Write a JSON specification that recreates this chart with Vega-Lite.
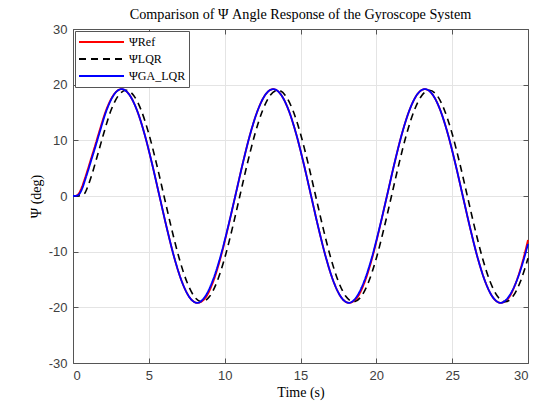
{
  "$schema": "https://vega.github.io/schema/vega-lite/v6.json",
  "width": 455,
  "height": 334,
  "autosize": "none",
  "padding": {"left": 73, "top": 29, "right": 17, "bottom": 44},
  "background": "white",
  "title": {"text": "Comparison of Ψ Angle Response of the Gyroscope System", "font": "Liberation Serif", "fontSize": 14.2, "fontWeight": "normal", "color": "#000000", "offset": 1},
  "config": {
    "view": {"stroke": null},
    "axis": {
      "domainColor": "#555555", "tickColor": "#555555", "tickSize": -5, "domainWidth": 1,
      "labelFont": "Liberation Sans", "labelFontSize": 13, "labelColor": "#404040",
      "labelExpr": "datum.value + ''",
      "titleFont": "Liberation Serif", "titleFontSize": 14, "titleFontWeight": "normal", "titleColor": "#000000",
      "gridColor": "#e4e4e4", "gridWidth": 1
    }
  },
  "data": {"values": [
    {"t": 0, "v": 0, "s": "ΨRef"}, {"t": 0.2, "v": 0.05, "s": "ΨRef"}, {"t": 0.4, "v": 0.5, "s": "ΨRef"}, {"t": 0.6, "v": 1.7, "s": "ΨRef"}, {"t": 0.8, "v": 3.3, "s": "ΨRef"}, {"t": 1.0, "v": 5.0, "s": "ΨRef"}, {"t": 1.2, "v": 6.8, "s": "ΨRef"}, {"t": 1.45, "v": 9.0, "s": "ΨRef"},
    {"t": 1.7, "v": 11.29, "s": "ΨRef"}, {"t": 2.2, "v": 15.53, "s": "ΨRef"}, {"t": 2.7, "v": 18.26, "s": "ΨRef"}, {"t": 3.2, "v": 19.2, "s": "ΨRef"}, {"t": 3.7, "v": 18.26, "s": "ΨRef"}, {"t": 4.2, "v": 15.53, "s": "ΨRef"}, {"t": 4.7, "v": 11.29, "s": "ΨRef"}, {"t": 5.2, "v": 5.93, "s": "ΨRef"}, {"t": 5.7, "v": 0, "s": "ΨRef"}, {"t": 6.2, "v": -5.93, "s": "ΨRef"}, {"t": 6.7, "v": -11.29, "s": "ΨRef"}, {"t": 7.2, "v": -15.53, "s": "ΨRef"}, {"t": 7.7, "v": -18.26, "s": "ΨRef"}, {"t": 8.2, "v": -19.2, "s": "ΨRef"}, {"t": 8.7, "v": -18.4, "s": "ΨRef"}, {"t": 9.2, "v": -15.7, "s": "ΨRef"}, {"t": 9.7, "v": -11.4, "s": "ΨRef"}, {"t": 10.2, "v": -5.93, "s": "ΨRef"}, {"t": 10.7, "v": 0, "s": "ΨRef"},
    {"t": 11.2, "v": 5.93, "s": "ΨRef"}, {"t": 11.7, "v": 11.29, "s": "ΨRef"}, {"t": 12.2, "v": 15.53, "s": "ΨRef"}, {"t": 12.7, "v": 18.26, "s": "ΨRef"}, {"t": 13.2, "v": 19.2, "s": "ΨRef"}, {"t": 13.7, "v": 18.26, "s": "ΨRef"}, {"t": 14.2, "v": 15.53, "s": "ΨRef"}, {"t": 14.7, "v": 11.29, "s": "ΨRef"}, {"t": 15.2, "v": 5.93, "s": "ΨRef"}, {"t": 15.7, "v": 0, "s": "ΨRef"}, {"t": 16.2, "v": -5.93, "s": "ΨRef"}, {"t": 16.7, "v": -11.29, "s": "ΨRef"}, {"t": 17.2, "v": -15.53, "s": "ΨRef"}, {"t": 17.7, "v": -18.26, "s": "ΨRef"}, {"t": 18.2, "v": -19.2, "s": "ΨRef"}, {"t": 18.7, "v": -18.4, "s": "ΨRef"}, {"t": 19.2, "v": -15.7, "s": "ΨRef"}, {"t": 19.7, "v": -11.4, "s": "ΨRef"}, {"t": 20.2, "v": -5.93, "s": "ΨRef"}, {"t": 20.7, "v": 0, "s": "ΨRef"},
    {"t": 21.2, "v": 5.93, "s": "ΨRef"}, {"t": 21.7, "v": 11.29, "s": "ΨRef"}, {"t": 22.2, "v": 15.53, "s": "ΨRef"}, {"t": 22.7, "v": 18.26, "s": "ΨRef"}, {"t": 23.2, "v": 19.2, "s": "ΨRef"}, {"t": 23.7, "v": 18.26, "s": "ΨRef"}, {"t": 24.2, "v": 15.53, "s": "ΨRef"}, {"t": 24.7, "v": 11.29, "s": "ΨRef"}, {"t": 25.2, "v": 5.93, "s": "ΨRef"}, {"t": 25.7, "v": 0, "s": "ΨRef"}, {"t": 26.2, "v": -5.93, "s": "ΨRef"}, {"t": 26.7, "v": -11.29, "s": "ΨRef"}, {"t": 27.2, "v": -15.53, "s": "ΨRef"}, {"t": 27.7, "v": -18.26, "s": "ΨRef"}, {"t": 28.2, "v": -19.2, "s": "ΨRef"}, {"t": 28.7, "v": -18.4, "s": "ΨRef"}, {"t": 29.2, "v": -15.6, "s": "ΨRef"}, {"t": 29.7, "v": -11.2, "s": "ΨRef"}, {"t": 30, "v": -7.9, "s": "ΨRef"},

    {"t": 0, "v": 0, "s": "ΨLQR"}, {"t": 0.25, "v": 0, "s": "ΨLQR"}, {"t": 0.5, "v": 0.05, "s": "ΨLQR"}, {"t": 0.75, "v": 0.4, "s": "ΨLQR"}, {"t": 1.0, "v": 1.9, "s": "ΨLQR"}, {"t": 1.25, "v": 3.9, "s": "ΨLQR"}, {"t": 1.5, "v": 6.2, "s": "ΨLQR"}, {"t": 2.0, "v": 11.0, "s": "ΨLQR"},
    {"t": 2.5, "v": 15.37, "s": "ΨLQR"}, {"t": 3.0, "v": 18.07, "s": "ΨLQR"}, {"t": 3.5, "v": 19, "s": "ΨLQR"}, {"t": 4.0, "v": 18.07, "s": "ΨLQR"}, {"t": 4.5, "v": 15.37, "s": "ΨLQR"}, {"t": 5.0, "v": 11.17, "s": "ΨLQR"}, {"t": 5.5, "v": 5.87, "s": "ΨLQR"}, {"t": 6.0, "v": 0, "s": "ΨLQR"}, {"t": 6.5, "v": -5.87, "s": "ΨLQR"}, {"t": 7.0, "v": -11.17, "s": "ΨLQR"}, {"t": 7.5, "v": -15.37, "s": "ΨLQR"}, {"t": 8.0, "v": -18.07, "s": "ΨLQR"}, {"t": 8.5, "v": -19, "s": "ΨLQR"}, {"t": 9.0, "v": -18.07, "s": "ΨLQR"}, {"t": 9.5, "v": -15.37, "s": "ΨLQR"}, {"t": 10.0, "v": -11.17, "s": "ΨLQR"}, {"t": 10.5, "v": -5.87, "s": "ΨLQR"},
    {"t": 11.0, "v": 0, "s": "ΨLQR"}, {"t": 11.5, "v": 5.87, "s": "ΨLQR"}, {"t": 12.0, "v": 11.17, "s": "ΨLQR"}, {"t": 12.5, "v": 15.37, "s": "ΨLQR"}, {"t": 13.0, "v": 18.07, "s": "ΨLQR"}, {"t": 13.5, "v": 19, "s": "ΨLQR"}, {"t": 14.0, "v": 18.07, "s": "ΨLQR"}, {"t": 14.5, "v": 15.37, "s": "ΨLQR"}, {"t": 15.0, "v": 11.17, "s": "ΨLQR"}, {"t": 15.5, "v": 5.87, "s": "ΨLQR"}, {"t": 16.0, "v": 0, "s": "ΨLQR"}, {"t": 16.5, "v": -5.87, "s": "ΨLQR"}, {"t": 17.0, "v": -11.17, "s": "ΨLQR"}, {"t": 17.5, "v": -15.37, "s": "ΨLQR"}, {"t": 18.0, "v": -18.07, "s": "ΨLQR"}, {"t": 18.5, "v": -19, "s": "ΨLQR"}, {"t": 19.0, "v": -18.07, "s": "ΨLQR"}, {"t": 19.5, "v": -15.37, "s": "ΨLQR"}, {"t": 20.0, "v": -11.17, "s": "ΨLQR"}, {"t": 20.5, "v": -5.87, "s": "ΨLQR"},
    {"t": 21.0, "v": 0, "s": "ΨLQR"}, {"t": 21.5, "v": 5.87, "s": "ΨLQR"}, {"t": 22.0, "v": 11.17, "s": "ΨLQR"}, {"t": 22.5, "v": 15.37, "s": "ΨLQR"}, {"t": 23.0, "v": 18.07, "s": "ΨLQR"}, {"t": 23.5, "v": 19, "s": "ΨLQR"}, {"t": 24.0, "v": 18.07, "s": "ΨLQR"}, {"t": 24.5, "v": 15.37, "s": "ΨLQR"}, {"t": 25.0, "v": 11.17, "s": "ΨLQR"}, {"t": 25.5, "v": 5.87, "s": "ΨLQR"}, {"t": 26.0, "v": 0, "s": "ΨLQR"}, {"t": 26.5, "v": -5.87, "s": "ΨLQR"}, {"t": 27.0, "v": -11.17, "s": "ΨLQR"}, {"t": 27.5, "v": -15.37, "s": "ΨLQR"}, {"t": 28.0, "v": -18.07, "s": "ΨLQR"}, {"t": 28.5, "v": -19, "s": "ΨLQR"}, {"t": 29.0, "v": -18.07, "s": "ΨLQR"}, {"t": 29.5, "v": -15.37, "s": "ΨLQR"}, {"t": 30.0, "v": -11.17, "s": "ΨLQR"},

    {"t": 0, "v": 0, "s": "ΨGA_LQR"}, {"t": 0.2, "v": 0.03, "s": "ΨGA_LQR"}, {"t": 0.4, "v": 0.3, "s": "ΨGA_LQR"}, {"t": 0.6, "v": 1.3, "s": "ΨGA_LQR"}, {"t": 0.8, "v": 2.9, "s": "ΨGA_LQR"}, {"t": 1.0, "v": 4.6, "s": "ΨGA_LQR"}, {"t": 1.2, "v": 6.4, "s": "ΨGA_LQR"}, {"t": 1.45, "v": 8.6, "s": "ΨGA_LQR"},
    {"t": 1.7, "v": 10.9, "s": "ΨGA_LQR"}, {"t": 2.2, "v": 15.3, "s": "ΨGA_LQR"}, {"t": 2.7, "v": 18.2, "s": "ΨGA_LQR"}, {"t": 3.2, "v": 19.2, "s": "ΨGA_LQR"}, {"t": 3.7, "v": 18.26, "s": "ΨGA_LQR"}, {"t": 4.2, "v": 15.53, "s": "ΨGA_LQR"}, {"t": 4.7, "v": 11.29, "s": "ΨGA_LQR"}, {"t": 5.2, "v": 5.93, "s": "ΨGA_LQR"}, {"t": 5.7, "v": 0, "s": "ΨGA_LQR"}, {"t": 6.2, "v": -5.93, "s": "ΨGA_LQR"}, {"t": 6.7, "v": -11.29, "s": "ΨGA_LQR"}, {"t": 7.2, "v": -15.53, "s": "ΨGA_LQR"}, {"t": 7.7, "v": -18.26, "s": "ΨGA_LQR"}, {"t": 8.2, "v": -19.2, "s": "ΨGA_LQR"}, {"t": 8.7, "v": -18.1, "s": "ΨGA_LQR"}, {"t": 9.2, "v": -15.3, "s": "ΨGA_LQR"}, {"t": 9.7, "v": -11.1, "s": "ΨGA_LQR"}, {"t": 10.2, "v": -5.8, "s": "ΨGA_LQR"}, {"t": 10.7, "v": 0, "s": "ΨGA_LQR"},
    {"t": 11.2, "v": 5.93, "s": "ΨGA_LQR"}, {"t": 11.7, "v": 11.29, "s": "ΨGA_LQR"}, {"t": 12.2, "v": 15.53, "s": "ΨGA_LQR"}, {"t": 12.7, "v": 18.26, "s": "ΨGA_LQR"}, {"t": 13.2, "v": 19.2, "s": "ΨGA_LQR"}, {"t": 13.7, "v": 18.26, "s": "ΨGA_LQR"}, {"t": 14.2, "v": 15.53, "s": "ΨGA_LQR"}, {"t": 14.7, "v": 11.29, "s": "ΨGA_LQR"}, {"t": 15.2, "v": 5.93, "s": "ΨGA_LQR"}, {"t": 15.7, "v": 0, "s": "ΨGA_LQR"}, {"t": 16.2, "v": -5.93, "s": "ΨGA_LQR"}, {"t": 16.7, "v": -11.29, "s": "ΨGA_LQR"}, {"t": 17.2, "v": -15.53, "s": "ΨGA_LQR"}, {"t": 17.7, "v": -18.26, "s": "ΨGA_LQR"}, {"t": 18.2, "v": -19.2, "s": "ΨGA_LQR"}, {"t": 18.7, "v": -18.1, "s": "ΨGA_LQR"}, {"t": 19.2, "v": -15.3, "s": "ΨGA_LQR"}, {"t": 19.7, "v": -11.1, "s": "ΨGA_LQR"}, {"t": 20.2, "v": -5.8, "s": "ΨGA_LQR"}, {"t": 20.7, "v": 0, "s": "ΨGA_LQR"},
    {"t": 21.2, "v": 5.93, "s": "ΨGA_LQR"}, {"t": 21.7, "v": 11.29, "s": "ΨGA_LQR"}, {"t": 22.2, "v": 15.53, "s": "ΨGA_LQR"}, {"t": 22.7, "v": 18.26, "s": "ΨGA_LQR"}, {"t": 23.2, "v": 19.2, "s": "ΨGA_LQR"}, {"t": 23.7, "v": 18.26, "s": "ΨGA_LQR"}, {"t": 24.2, "v": 15.53, "s": "ΨGA_LQR"}, {"t": 24.7, "v": 11.29, "s": "ΨGA_LQR"}, {"t": 25.2, "v": 5.93, "s": "ΨGA_LQR"}, {"t": 25.7, "v": 0, "s": "ΨGA_LQR"}, {"t": 26.2, "v": -5.93, "s": "ΨGA_LQR"}, {"t": 26.7, "v": -11.29, "s": "ΨGA_LQR"}, {"t": 27.2, "v": -15.53, "s": "ΨGA_LQR"}, {"t": 27.7, "v": -18.26, "s": "ΨGA_LQR"}, {"t": 28.2, "v": -19.2, "s": "ΨGA_LQR"}, {"t": 28.7, "v": -18.2, "s": "ΨGA_LQR"}, {"t": 29.2, "v": -15.6, "s": "ΨGA_LQR"}, {"t": 29.7, "v": -11.6, "s": "ΨGA_LQR"}, {"t": 30, "v": -8.6, "s": "ΨGA_LQR"}
  ]},
  "encoding": {
    "x": {"field": "t", "type": "quantitative", "scale": {"domain": [0, 30], "nice": false},
          "axis": {"orient": "bottom", "values": [0, 5, 10, 15, 20, 25, 30], "grid": true, "title": "Time (s)", "labelPadding": 11, "titlePadding": 3}},
    "y": {"field": "v", "type": "quantitative", "scale": {"domain": [-30, 30], "nice": false},
          "axis": {"orient": "left", "values": [-30, -20, -10, 0, 10, 20, 30], "grid": true, "title": "Ψ (deg)", "labelPadding": 11, "titlePadding": 5}},
    "color": {"field": "s", "type": "nominal",
              "scale": {"domain": ["ΨRef", "ΨLQR", "ΨGA_LQR"], "range": ["#ff0000", "#000000", "#0000ff"]},
              "legend": {"title": null, "orient": "top-left", "offset": 2, "fillColor": "white", "strokeColor": "#555555", "padding": 3, "symbolType": "stroke", "symbolSize": 2025, "symbolStrokeWidth": 2, "labelFont": "Liberation Serif", "labelFontSize": 12, "labelColor": "#000000", "rowPadding": 1, "clipHeight": 16, "labelOffset": 4}},
    "strokeDash": {"field": "s", "type": "nominal",
              "scale": {"domain": ["ΨRef", "ΨLQR", "ΨGA_LQR"], "range": [[1, 0], [7, 5], [1, 0]]},
              "legend": {"title": null, "orient": "top-left", "offset": 2, "fillColor": "white", "strokeColor": "#555555", "padding": 3, "symbolType": "stroke", "symbolSize": 2025, "symbolStrokeWidth": 2, "labelFont": "Liberation Serif", "labelFontSize": 12, "labelColor": "#000000", "rowPadding": 1, "clipHeight": 16, "labelOffset": 4}}
  },
  "layer": [
    {"transform": [{"filter": "datum.s === 'ΨRef'"}], "mark": {"type": "line", "interpolate": "monotone", "strokeWidth": 1.8}},
    {"transform": [{"filter": "datum.s === 'ΨLQR'"}], "mark": {"type": "line", "interpolate": "monotone", "strokeWidth": 1.6},
     "encoding": {
       "x": {"field": "t", "type": "quantitative", "axis": {"orient": "top", "values": [0, 5, 10, 15, 20, 25, 30], "labels": false, "grid": false, "title": null}},
       "y": {"field": "v", "type": "quantitative", "axis": {"orient": "right", "values": [-30, -20, -10, 0, 10, 20, 30], "labels": false, "grid": false, "title": null}}
     }},
    {"transform": [{"filter": "datum.s === 'ΨGA_LQR'"}], "mark": {"type": "line", "interpolate": "monotone", "strokeWidth": 1.8},
     "encoding": {
       "x": {"field": "t", "type": "quantitative", "axis": null},
       "y": {"field": "v", "type": "quantitative", "axis": null}
     }}
  ],
  "resolve": {"axis": {"x": "independent", "y": "independent"}}
}
